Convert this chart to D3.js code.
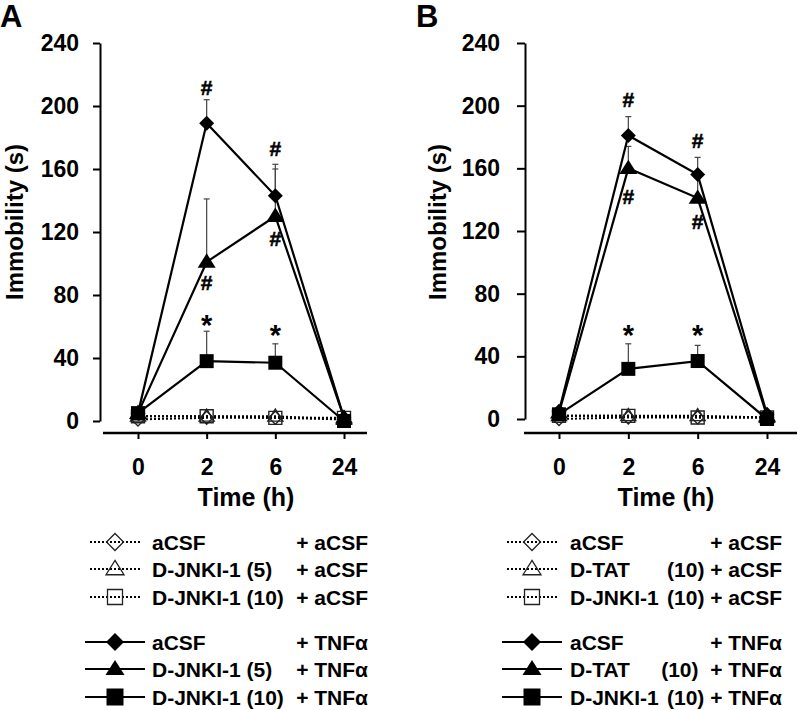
<!DOCTYPE html>
<html>
<head>
<meta charset="utf-8">
<script src="https://cdn.jsdelivr.net/npm/d3@7"></script>
<style>
  html, body { margin: 0; padding: 0; background: #fff; }
  svg { display: block; font-family: "Liberation Sans", Arial, sans-serif; font-weight: bold; }
</style>
</head>
<body>
<svg id="chart" width="800" height="710"></svg>
<script>
// ---------- DATA ----------
const times = ["0", "2", "6", "24"];
const yTicks = [0, 40, 80, 120, 160, 200, 240];

// Panel A
const aCSF_aCSF_A   = [1, 2, 2, 1];
const jnk5_aCSF_A   = [3, 3, 3, 1];
const jnk10_aCSF_A  = [3, 3, 2, 2];
const aCSF_TNF_A    = [5, 189, 143, 2];
const jnk5_TNF_A    = [5, 101, 130, 2];
const jnk10_TNF_A   = [5, 38, 37, 0];
const aCSF_TNF_A_err  = [0, 15, 20, 0];
const jnk5_TNF_A_err  = [0, 40, 30, 0];
const jnk10_TNF_A_err = [0, 19, 12, 0];

// Panel B
const aCSF_aCSF_B   = [0, 1, 1, 1];
const tat_aCSF_B    = [2, 2, 2, 1];
const jnk10_aCSF_B  = [2, 2, 1, 1];
const aCSF_TNF_B    = [5, 181, 156, 3];
const tat_TNF_B     = [4, 160, 141, 2];
const jnk10_TNF_B   = [3, 32, 37, 0];
const aCSF_TNF_B_err  = [0, 12, 11, 0];
const tat_TNF_B_err   = [0, 14, 15, 0];
const jnk10_TNF_B_err = [0, 16, 10, 0];

// Significance marks: [time, y value of mark centre, symbol]
const marksA = [["2", 212, "#"], ["6", 173, "#"], ["2", 88, "#"], ["6", 116, "#"], ["2", 64, "*"], ["6", 58, "*"]];
const marksB = [["2", 204, "#"], ["6", 178, "#"], ["2", 142, "#"], ["6", 126, "#"], ["2", 57, "*"], ["6", 57, "*"]];

// Legend labels
const legendA = [
  ["aCSF", "+ aCSF"], ["D-JNKI-1 (5)", "+ aCSF"], ["D-JNKI-1 (10)", "+ aCSF"],
  ["aCSF", "+ TNFα"], ["D-JNKI-1 (5)", "+ TNFα"], ["D-JNKI-1 (10)", "+ TNFα"]
];
const legendB = [
  ["aCSF", "+ aCSF"], ["D-TAT", "(10) + aCSF"], ["D-JNKI-1", "(10) + aCSF"],
  ["aCSF", "+ TNFα"], ["D-TAT", "(10)  + TNFα"], ["D-JNKI-1", "(10) + TNFα"]
];
const shapes = ["diamond", "triangle", "square", "diamond", "triangle", "square"];

// ---------- DRAW ----------
const svg = d3.select("#chart");

function symbolPath(shape, size) {
  const s = size;
  if (shape === "diamond") return `M0,${-s/2}L${s/2},0L0,${s/2}L${-s/2},0Z`;
  if (shape === "triangle") { const h = s * 0.8; return `M0,${-h*0.6}L${s/2},${h*0.4}L${-s/2},${h*0.4}Z`; }
  return `M${-s/2},${-s/2}H${s/2}V${s/2}H${-s/2}Z`;
}

function panel(cfg) {
  const g = svg.append("g");
  const x = d3.scalePoint().domain(times).range(cfg.xRange);
  const y = d3.scaleLinear().domain([0, 240]).range(cfg.yRange);

  // panel letter
  g.append("text").attr("x", cfg.letterX).attr("y", 27).attr("font-size", 31).text(cfg.letter);

  // y axis
  const ya = g.append("g").attr("transform", `translate(${cfg.yAxisX},0)`)
    .call(d3.axisLeft(y).tickValues(yTicks).tickSize(cfg.yTickSize).tickSizeOuter(0).tickPadding(cfg.yPad));
  ya.select(".domain").attr("stroke", "#000").attr("stroke-width", 2);
  ya.selectAll(".tick line").attr("stroke", "#000").attr("stroke-width", 2);
  ya.selectAll(".tick text").attr("font-size", 23).attr("font-family", "Liberation Sans, Arial").attr("font-weight", "bold").attr("fill", "#000");

  // x axis
  const xa = g.append("g").attr("transform", `translate(0,${cfg.xAxisY})`)
    .call(d3.axisBottom(x).tickSize(6).tickSizeOuter(0).tickPadding(20));
  xa.select(".domain").remove();
  xa.append("line").attr("x1", cfg.xLine[0]).attr("x2", cfg.xLine[1]).attr("y1", 0).attr("y2", 0)
    .attr("stroke", "#000").attr("stroke-width", 2.5);
  xa.selectAll(".tick line").attr("stroke", "#000").attr("stroke-width", 2);
  xa.selectAll(".tick text").attr("font-size", 23).attr("font-family", "Liberation Sans, Arial").attr("font-weight", "bold").attr("fill", "#000");

  // axis titles
  g.append("text").attr("transform", `translate(${cfg.yTitleX},222) rotate(-90)`)
    .attr("text-anchor", "middle").attr("font-size", 24).text("Immobility (s)");
  g.append("text").attr("x", cfg.xTitleX).attr("y", 506)
    .attr("text-anchor", "middle").attr("font-size", 25).text("Time (h)");

  const line = d3.line().x((d, i) => x(times[i])).y(d => y(d));

  // dotted control series
  cfg.open.forEach((vals) => {
    g.append("path").attr("d", line(vals)).attr("fill", "none")
      .attr("stroke", "#000").attr("stroke-width", 2).attr("stroke-dasharray", "2,2");
  });
  // error bars (upper half) for TNF series
  cfg.filled.forEach((vals, k) => {
    const err = cfg.errs[k];
    vals.forEach((v, i) => {
      if (!err[i]) return;
      const cx = x(times[i]);
      g.append("line").attr("x1", cx).attr("x2", cx).attr("y1", y(v)).attr("y2", y(v + err[i]))
        .attr("stroke", "#444").attr("stroke-width", 1.2);
      g.append("line").attr("x1", cx - 3).attr("x2", cx + 3).attr("y1", y(v + err[i])).attr("y2", y(v + err[i]))
        .attr("stroke", "#444").attr("stroke-width", 1.2);
    });
  });
  // solid TNF lines
  cfg.filled.forEach((vals) => {
    g.append("path").attr("d", line(vals)).attr("fill", "none")
      .attr("stroke", "#000").attr("stroke-width", 2.2);
  });
  // open markers
  cfg.open.forEach((vals, k) => {
    const sh = shapes[k];
    vals.forEach((v, i) => {
      g.append("path").attr("d", symbolPath(sh, sh === "triangle" ? 15 : 13))
        .attr("transform", `translate(${x(times[i])},${y(v)})`)
        .attr("fill", "none").attr("stroke", "#222").attr("stroke-width", 1.4);
    });
  });
  // filled markers
  cfg.filled.forEach((vals, k) => {
    const sh = shapes[k + 3];
    vals.forEach((v, i) => {
      g.append("path").attr("d", symbolPath(sh, sh === "triangle" ? 18 : (sh === "diamond" ? 15 : 14)))
        .attr("transform", `translate(${x(times[i])},${y(v)})`)
        .attr("fill", "#000");
    });
  });
  // significance marks
  cfg.marks.forEach(([t, v, s]) => {
    const isStar = s === "*";
    g.append("text").attr("x", x(t)).attr("y", y(v) + (isStar ? 15 : 7.5))
      .attr("text-anchor", "middle").attr("font-size", isStar ? 29 : 21)
      .attr("stroke", isStar ? null : "#000").attr("stroke-width", isStar ? null : 0.5).text(s);
  });

  // legend
  const rowsY = [542, 569, 597, 642, 669, 697];
  cfg.legend.forEach(([name, suffix], k) => {
    const ly = rowsY[k];
    const dotted = k < 3;
    g.append("line").attr("x1", dotted ? cfg.legSym - 25 : cfg.legSym - 30)
      .attr("x2", dotted ? cfg.legSym + 25 : cfg.legSym + 30)
      .attr("y1", ly).attr("y2", ly).attr("stroke", "#000")
      .attr("stroke-width", dotted ? 1.8 : 2.2).attr("stroke-dasharray", dotted ? "2,2" : null);
    const sh = shapes[k];
    if (dotted) {
      g.append("path").attr("d", symbolPath(sh, sh === "triangle" ? 18 : (sh === "diamond" ? 17 : 15)))
        .attr("transform", `translate(${cfg.legSym},${ly})`)
        .attr("fill", "none").attr("stroke", "#222").attr("stroke-width", 1.3);
    } else {
      g.append("path").attr("d", symbolPath(sh, sh === "triangle" ? 19 : (sh === "diamond" ? 18 : 17)))
        .attr("transform", `translate(${cfg.legSym},${ly})`).attr("fill", "#000");
    }
    g.append("text").attr("x", cfg.legText).attr("y", ly + 8).attr("font-size", 21).text(name);
    g.append("text").attr("x", cfg.legEnd).attr("y", ly + 8).attr("font-size", 21)
      .attr("text-anchor", "end").attr("xml:space", "preserve").style("white-space", "pre").text(suffix);
  });
}

panel({
  letter: "A", letterX: 0,
  xRange: [138, 344], yRange: [421, 43], yAxisX: 100, yTickSize: 7, yPad: 14,
  xAxisY: 433, xLine: [103, 367], yTitleX: 23, xTitleX: 246,
  open: [aCSF_aCSF_A, jnk5_aCSF_A, jnk10_aCSF_A],
  filled: [aCSF_TNF_A, jnk5_TNF_A, jnk10_TNF_A],
  errs: [aCSF_TNF_A_err, jnk5_TNF_A_err, jnk10_TNF_A_err],
  marks: marksA, legend: legendA,
  legSym: 115, legText: 152, legEnd: 368
});

panel({
  letter: "B", letterX: 416,
  xRange: [559, 767], yRange: [419, 43], yAxisX: 525, yTickSize: 8, yPad: 17,
  xAxisY: 433, xLine: [524, 797], yTitleX: 446, xTitleX: 666,
  open: [aCSF_aCSF_B, tat_aCSF_B, jnk10_aCSF_B],
  filled: [aCSF_TNF_B, tat_TNF_B, jnk10_TNF_B],
  errs: [aCSF_TNF_B_err, tat_TNF_B_err, jnk10_TNF_B_err],
  marks: marksB, legend: legendB,
  legSym: 532, legText: 570, legEnd: 782
});
</script>
</body>
</html>
